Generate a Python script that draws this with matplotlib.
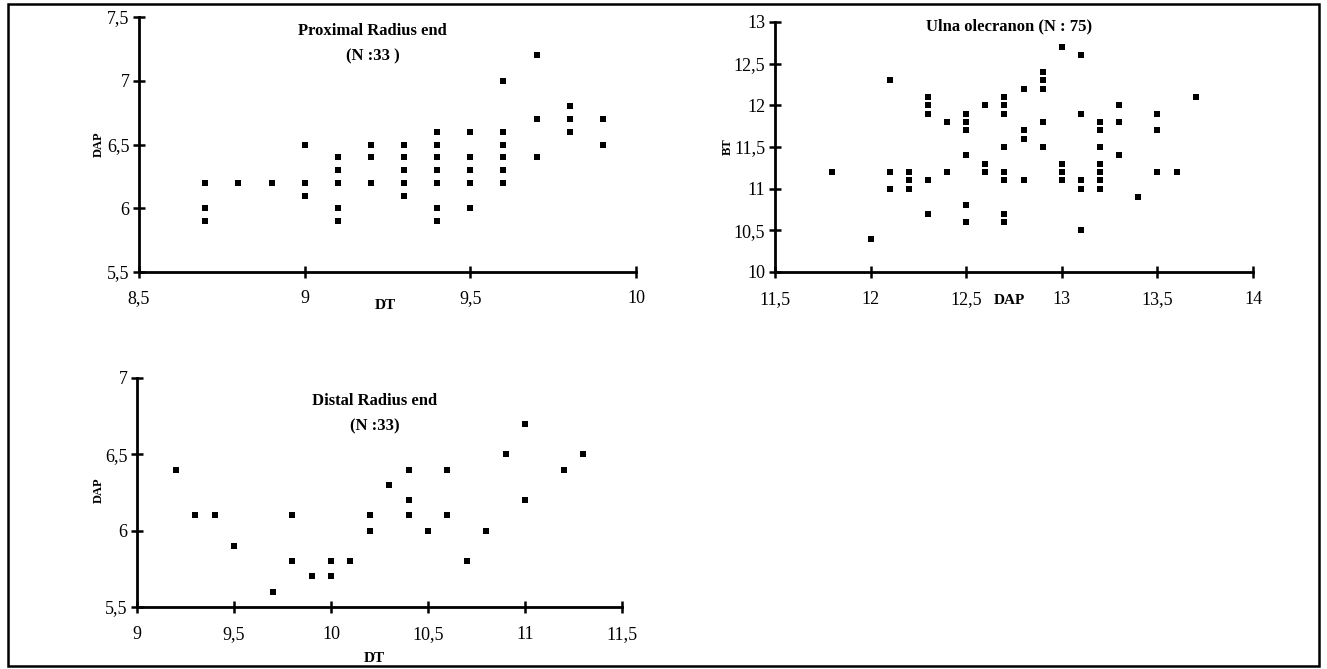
import matplotlib.pyplot as plt
from matplotlib.patches import Rectangle
from matplotlib.ticker import FuncFormatter

# Proximal Radius end : DT vs DAP
prox_dt = [8.7, 8.7, 8.7, 8.8, 8.9, 9.0, 9.0, 9.0,
           9.1, 9.1, 9.1, 9.1, 9.1, 9.2, 9.2, 9.2,
           9.3, 9.3, 9.3, 9.3, 9.3,
           9.4, 9.4, 9.4, 9.4, 9.4, 9.4, 9.4,
           9.5, 9.5, 9.5, 9.5, 9.5,
           9.6, 9.6, 9.6, 9.6, 9.6, 9.6,
           9.7, 9.7, 9.7, 9.8, 9.8, 9.8, 9.9, 9.9]
prox_dap = [6.2, 6.0, 5.9, 6.2, 6.2, 6.5, 6.2, 6.1,
            6.4, 6.3, 6.2, 6.0, 5.9, 6.5, 6.4, 6.2,
            6.5, 6.4, 6.3, 6.2, 6.1,
            6.6, 6.5, 6.4, 6.3, 6.2, 6.0, 5.9,
            6.6, 6.4, 6.3, 6.2, 6.0,
            7.0, 6.6, 6.5, 6.4, 6.3, 6.2,
            7.2, 6.7, 6.4, 6.8, 6.7, 6.6, 6.7, 6.5]

# Ulna olecranon : DAP vs BT
ulna_dap = [11.8, 12.0, 12.1, 12.1, 12.1, 12.2, 12.2, 12.2,
            12.3, 12.3, 12.3, 12.3, 12.3, 12.4, 12.4,
            12.5, 12.5, 12.5, 12.5, 12.5, 12.5,
            12.6, 12.6, 12.6,
            12.7, 12.7, 12.7, 12.7, 12.7, 12.7, 12.7, 12.7,
            12.8, 12.8, 12.8, 12.8,
            12.9, 12.9, 12.9, 12.9, 12.9,
            13.0, 13.0, 13.0, 13.0,
            13.1, 13.1, 13.1, 13.1, 13.1,
            13.2, 13.2, 13.2, 13.2, 13.2, 13.2, 13.2,
            13.3, 13.3, 13.3, 13.4, 13.5, 13.5, 13.5, 13.6, 13.7]
ulna_bt = [11.2, 10.4, 12.3, 11.2, 11.0, 11.2, 11.1, 11.0,
           12.1, 12.0, 11.9, 11.1, 10.7, 11.8, 11.2,
           11.9, 11.8, 11.7, 11.4, 10.8, 10.6,
           12.0, 11.3, 11.2,
           12.1, 12.0, 11.9, 11.5, 11.2, 11.1, 10.7, 10.6,
           12.2, 11.7, 11.6, 11.1,
           12.4, 12.3, 12.2, 11.8, 11.5,
           12.7, 11.3, 11.2, 11.1,
           12.6, 11.9, 11.1, 11.0, 10.5,
           11.8, 11.7, 11.5, 11.3, 11.2, 11.1, 11.0,
           12.0, 11.8, 11.4, 10.9, 11.9, 11.7, 11.2, 11.2, 12.1]

# Distal Radius end : DT vs DAP
dist_dt = [9.2, 9.3, 9.4, 9.5, 9.7, 9.8, 9.8, 9.9, 10.0, 10.0,
           10.1, 10.2, 10.2, 10.3, 10.4, 10.4, 10.4, 10.5,
           10.6, 10.6, 10.7, 10.8, 10.9, 11.0, 11.0, 11.2, 11.3]
dist_dap = [6.4, 6.1, 6.1, 5.9, 5.6, 6.1, 5.8, 5.7, 5.8, 5.7,
            5.8, 6.1, 6.0, 6.3, 6.4, 6.2, 6.1, 6.0,
            6.4, 6.1, 5.8, 6.0, 6.5, 6.7, 6.2, 6.4, 6.5]

serif = 'Liberation Serif'
W, H = 1327, 669


def comma(v, pos):
    return ('%g' % v).replace('.', ',')


def setup(ax, xlim, ylim, xticks, yticks, xpad):
    ax.set_xlim(*xlim)
    ax.set_ylim(*ylim)
    ax.set_xticks(xticks)
    ax.set_yticks(yticks)
    ax.xaxis.set_major_formatter(FuncFormatter(comma))
    ax.yaxis.set_major_formatter(FuncFormatter(comma))
    for s in ['top', 'right']:
        ax.spines[s].set_visible(False)
    for s in ['left', 'bottom']:
        ax.spines[s].set_linewidth(2)
    ax.tick_params(direction='inout', length=8, width=1.8, labelsize=13)
    ax.tick_params(axis='y', pad=3)
    ax.tick_params(axis='x', pad=xpad)
    for lab in ax.get_xticklabels() + ax.get_yticklabels():
        lab.set_fontfamily(serif)
    ax.set_facecolor('none')


def box(l, t, r, b):
    return [l / W, 1 - b / H, (r - l) / W, (b - t) / H]


fig = plt.figure(figsize=(13.27, 6.69), dpi=100)

# panel 1
ax1 = fig.add_axes(box(139, 17, 636, 272))
ax1.scatter(prox_dt, prox_dap, marker='s', s=18, color='black', linewidths=0)
setup(ax1, (8.5, 10), (5.5, 7.5), [8.5, 9, 9.5, 10], [5.5, 6, 6.5, 7, 7.5], 9)
ax1.text(0.47, 0.93, 'Proximal Radius end', transform=ax1.transAxes, ha='center',
         fontsize=12, fontweight='bold', family=serif)
ax1.text(0.47, 0.83, '(N :33 )', transform=ax1.transAxes, ha='center',
         fontsize=12, fontweight='bold', family=serif)
ax1.set_xlabel('DT', fontsize=11, fontweight='bold', family=serif)
ax1.xaxis.set_label_coords(0.495, -0.105)
ax1.set_ylabel('DAP', fontsize=9, fontweight='bold', family=serif)
ax1.yaxis.set_label_coords(-0.068, 0.5)

# panel 2
ax2 = fig.add_axes(box(775, 22, 1253, 272))
ax2.scatter(ulna_dap, ulna_bt, marker='s', s=18, color='black', linewidths=0)
setup(ax2, (11.5, 14), (10, 13), [11.5, 12, 12.5, 13, 13.5, 14],
      [10, 10.5, 11, 11.5, 12, 12.5, 13], 10)
ax2.text(0.49, 0.965, 'Ulna olecranon (N : 75)', transform=ax2.transAxes, ha='center',
         fontsize=12, fontweight='bold', family=serif)
ax2.set_xlabel('DAP', fontsize=11, fontweight='bold', family=serif)
ax2.xaxis.set_label_coords(0.49, -0.09)
ax2.set_ylabel('BT', fontsize=9, fontweight='bold', family=serif)
ax2.yaxis.set_label_coords(-0.086, 0.5)

# panel 3
ax3 = fig.add_axes(box(137, 378, 622, 607))
ax3.scatter(dist_dt, dist_dap, marker='s', s=14, color='black', linewidths=0)
setup(ax3, (9, 11.5), (5.5, 7), [9, 9.5, 10, 10.5, 11, 11.5], [5.5, 6, 6.5, 7], 10)
ax3.text(0.49, 0.88, 'Distal Radius end', transform=ax3.transAxes, ha='center',
         fontsize=12, fontweight='bold', family=serif)
ax3.text(0.49, 0.77, '(N :33)', transform=ax3.transAxes, ha='center',
         fontsize=12, fontweight='bold', family=serif)
ax3.set_xlabel('DT', fontsize=11, fontweight='bold', family=serif)
ax3.xaxis.set_label_coords(0.49, -0.195)
ax3.set_ylabel('DAP', fontsize=9, fontweight='bold', family=serif)
ax3.yaxis.set_label_coords(-0.066, 0.51)

# outer frame
fig.patches.append(Rectangle((8 / W, 1 - 666 / H), (1319 - 8) / W, (666 - 4) / H,
                             transform=fig.transFigure, fill=False,
                             edgecolor='black', linewidth=1.8))

fig.savefig('out.png', dpi=100)
